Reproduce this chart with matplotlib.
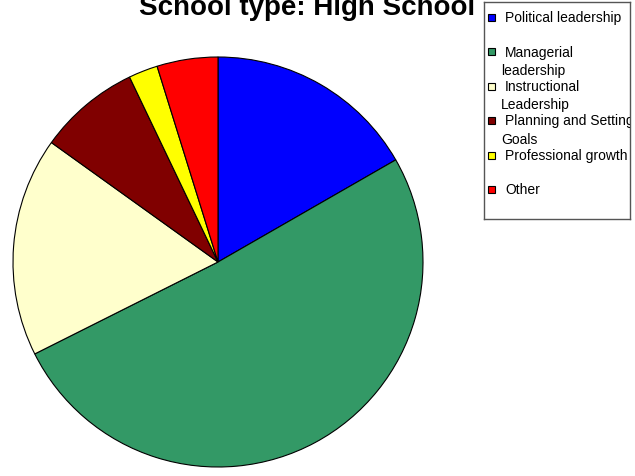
import matplotlib.pyplot as plt
from matplotlib.patches import Rectangle

plt.rcParams['font.family'] = ['Liberation Sans', 'DejaVu Sans']

# share of responses per leadership category
labels = ['Political leadership', 'Managerial\nleadership', 'Instructional\nLeadership',
          'Planning and Setting\nGoals', 'Professional growth', 'Other']
shares = [16.7, 50.9, 17.3, 8.0, 2.3, 4.8]
colors = ['#0000ff', '#339966', '#ffffcc', '#800000', '#ffff00', '#ff0000']

W, H = 635, 477
fig = plt.figure(figsize=(W / 100, H / 100), dpi=100)

# pie area (pixel box converted to figure fractions)
ax = fig.add_axes([13 / W, (H - 468) / H, 410 / W, 410 / H])
ax.pie(shares, colors=colors, startangle=90, counterclock=False,
       wedgeprops=dict(edgecolor='black', linewidth=0.8))
ax.set_xlim(-1.0, 1.0)
ax.set_ylim(-1.0, 1.0)

fig.text(307 / W, 1 - 15 / H, 'School type: High School', ha='center', va='baseline',
         fontsize=20, fontweight='bold')

# legend box, drawn on its own axes so long labels get cut at the border
lx0, ly0, lw, lh = 484, 3, 146, 217
lax = fig.add_axes([lx0 / W, (H - ly0 - lh) / H, lw / W, lh / H], zorder=5)
lax.set_xlim(0, lw)
lax.set_ylim(lh, 0)
lax.set_xticks([])
lax.set_yticks([])
for s in lax.spines.values():
    s.set_color('#555555')
    s.set_linewidth(1.0)

row_y = 15
for lab, col in zip(labels, colors):
    lax.add_patch(Rectangle((4, row_y - 3.5), 7, 7, facecolor=col,
                            edgecolor='black', linewidth=0.8))
    lines = lab.split('\n')
    lax.text(21, row_y, lines[0], va='center', ha='left', fontsize=10, clip_on=True)
    for k, extra in enumerate(lines[1:]):
        lax.text(17, row_y + 18 * (k + 1), extra, va='center', ha='left',
                 fontsize=10, clip_on=True)
    row_y += 34.5

fig.savefig('out.png', dpi=100)
